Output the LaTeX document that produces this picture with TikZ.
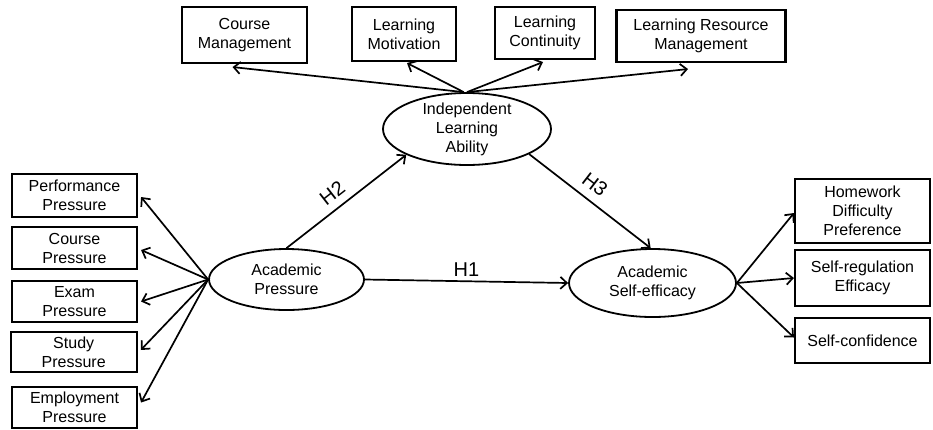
\documentclass[tikz,border=0pt]{standalone}
\usepackage{fontspec}
\setmainfont{Liberation Sans}
\usetikzlibrary{arrows.meta}
\usetikzlibrary{shapes.geometric}

\begin{document}
\begin{tikzpicture}[x=1pt,y=-1pt,
  box/.style={draw, line width=2.1pt, align=center, inner sep=0pt, font=\fontsize{16}{19}\selectfont},
  latent/.style={draw, ellipse, line width=1.8pt, align=center, inner xsep=0pt, inner ysep=-2pt, font=\fontsize{16}{19}\selectfont},
  link/.style={-{Straight Barb[length=6.5pt,width=12pt]}, line width=1.7pt},
  hyp/.style={font=\fontsize{20}{24}\selectfont}]
\useasboundingbox (0,0) rectangle (933,429);

% latent variables
\node[latent, minimum width=168pt, minimum height=72pt] (ila) at (467,129) {Independent\\Learning\\Ability};
\node[latent, minimum width=155pt, minimum height=61pt] (ap) at (286.5,279.5) {Academic\\Pressure};
\node[latent, minimum width=167pt, minimum height=68pt] (ase) at (652.5,283) {Academic\\Self-efficacy};

% indicators of independent learning ability
\node[box, minimum width=125pt, minimum height=56pt] (cm) at (244.5,35) {Course\\Management};
\node[box, minimum width=104pt, minimum height=54pt] (lm) at (404,34) {Learning\\Motivation};
\node[box, minimum width=100pt, minimum height=52pt] (lc) at (545,33) {Learning\\Continuity};
\node[box, minimum width=169pt, minimum height=52pt] (lrm) at (701,36) {Learning Resource\\Management};

% indicators of academic pressure
\node[box, minimum width=125pt, minimum height=43pt] (pp) at (74.5,195.5) {Performance\\Pressure};
\node[box, minimum width=125pt, minimum height=42pt] (cp) at (74.5,248) {Course\\Pressure};
\node[box, minimum width=125pt, minimum height=41pt] (ep) at (74.5,301.5) {Exam\\Pressure};
\node[box, minimum width=126pt, minimum height=40pt] (sp) at (73.7,352) {Study\\Pressure};
\node[box, minimum width=125pt, minimum height=41pt] (emp) at (74.5,407.5) {Employment\\Pressure};

% indicators of academic self-efficacy
\node[box, minimum width=135pt, minimum height=64pt] (hdp) at (862.5,211) {Homework\\Difficulty\\Preference};
\node[box, minimum width=135pt, minimum height=56pt] (sre) at (862.5,278) {Self-regulation\\Efficacy};
\node[box, minimum width=135pt, minimum height=45pt] (sc) at (862.5,340.5) {Self-confidence};

% loadings
\draw[link] (ila.95) -- ([xshift=-12pt,yshift=-3pt]cm.south);
\draw[link] (ila.95) -- ([xshift=3pt,yshift=-1pt]lm.south);
\draw[link] (ila.north) -- ([xshift=-2pt,yshift=-2pt]lc.south);
\draw[link] (ila.north) -- ([xshift=-13pt,yshift=-6pt]lrm.south);

\draw[link] (ap.west) -- ([xshift=3pt,yshift=-1.5pt]pp.east);
\draw[link] (ap.west) -- ([xshift=3pt,yshift=-2pt]cp.east);
\draw[link] (ap.west) -- ([xshift=3pt]ep.east);
\draw[link] (ap.west) -- ([xshift=3pt,yshift=2pt]sp.east);
\draw[link] (ap.west) -- ([xshift=3pt,yshift=5pt]emp.east);

\draw[link] (ase.east) -- ([yshift=-2pt]hdp.west);
\draw[link] (ase.east) -- (sre.west);
\draw[link] (ase.east) -- ([yshift=3pt]sc.west);

% hypotheses
\draw[link] (ap.east) -- (ase.west) node[hyp, midway, above=1pt] {H1};
\draw[link] (ap.north) -- (ila.203) node[hyp, pos=0.46, above=4pt, sloped] {H2};
\draw[link] (ila.-22) -- (ase.93) node[hyp, pos=0.46, above=5pt, sloped] {H3};
\end{tikzpicture}
\end{document}
